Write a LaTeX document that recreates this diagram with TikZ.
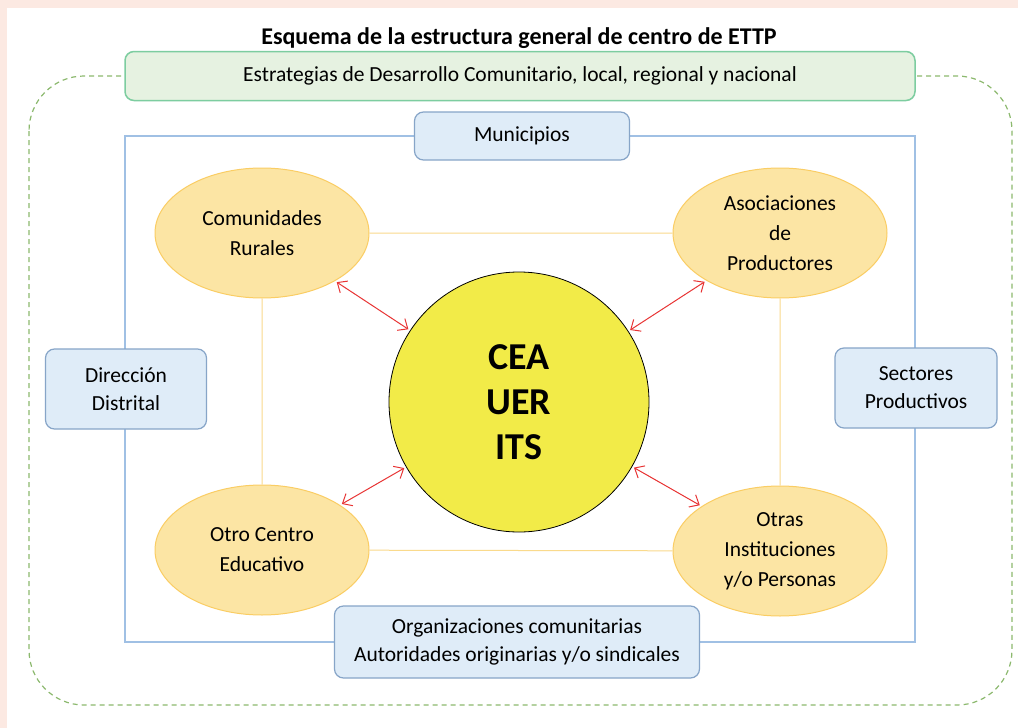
\documentclass[tikz,border=0pt]{standalone}
\usepackage{fontspec}
\setmainfont{Carlito}
\usepackage{xcolor}
\definecolor{bgpink}{RGB}{252,233,226}
\definecolor{mylightgreen}{RGB}{230,242,225}
\definecolor{mydarkgreen}{RGB}{125,205,160}
\definecolor{mydashgreen}{RGB}{140,185,110}
\definecolor{mylightblue}{RGB}{223,236,248}
\definecolor{mydarkblue}{RGB}{135,165,200}
\definecolor{myframeblue}{RGB}{160,192,228}
\definecolor{mylightorange}{RGB}{252,229,164}
\definecolor{mydarkorange}{RGB}{250,205,100}
\definecolor{mylineorange}{RGB}{250,218,140}
\definecolor{myyellow}{RGB}{242,235,72}
\definecolor{myred}{RGB}{232,52,52}
\usepackage{tikz}
\usetikzlibrary{shapes.geometric}
\usetikzlibrary{arrows.meta}
\newcommand{\widthellipse}{214pt}
\newcommand{\heightellipse}{130pt}
\tikzset{
    common/.style={draw, align=center, font=\fontsize{21.5}{28}\selectfont},
    box/.style={common, rectangle, rounded corners=9pt, fill=mylightblue, draw=mydarkblue, line width=1.2pt},
    strategy/.style={common, rectangle, rounded corners=9pt, fill=mylightgreen, draw=mydarkgreen, line width=1.5pt, minimum width=790pt, minimum height=49pt},
    actor/.style={common, ellipse, fill=mylightorange, draw=mydarkorange, line width=1pt, minimum width=\widthellipse, minimum height=\heightellipse, inner sep=0pt, font=\fontsize{21.5}{30}\selectfont},
    centre/.style={common, circle, fill=myyellow, draw=black, line width=0.8pt, minimum size=260pt, inner sep=0pt, font=\fontsize{38}{45}\selectfont\bfseries},
    link/.style={mylineorange, line width=1pt},
    exchange/.style={<->, >={Straight Barb[length=8pt, width=14pt]}, myred, line width=1pt, shorten <=2pt, shorten >=2pt},
}

\begin{document}
\begin{tikzpicture}[x=1pt, y=-1pt]
      \useasboundingbox (0,0) rectangle (1018,728);
      \fill[bgpink] (0,0) rectangle (1018,728);
      \fill[white] (7,8) rectangle (1018,728);
      % frames
      \draw[mydashgreen, line width=1.2pt, dash pattern=on 5pt off 4pt, rounded corners=55pt] (29,76) rectangle (1012,705);
      \draw[myframeblue, line width=1.5pt] (125,136) rectangle (915,642);

      \node[font=\fontsize{24}{28}\selectfont\bfseries] (title) at (519,38) {Esquema de la estructura general de centro de ETTP};
      \node[strategy] (strategies) at (520,76) {Estrategias de Desarrollo Comunitario, local, regional y nacional};

      \node[box, minimum width=215pt, minimum height=48pt] (municipios) at (522,136) {Municipios};
      \node[box, minimum width=161pt, minimum height=80pt] (direccion) at (126,389) {Dirección\\Distrital};
      \node[box, minimum width=162pt, minimum height=80pt] (sectores) at (916,388) {Sectores\\Productivos};
      \node[box, minimum width=365pt, minimum height=72pt] (organizaciones) at (517,642) {Organizaciones comunitarias\\Autoridades originarias y/o sindicales};

      \node[actor] (rurales) at (262,233) {Comunidades\\Rurales};
      \node[actor] (productores) at (780,233) {Asociaciones\\de\\Productores};
      \node[actor] (educativo) at (262,550) {Otro Centro\\Educativo};
      \node[actor] (personas) at (780,551) {Otras\\Instituciones\\y/o Personas};

      \node[centre] (cea) at (519,402) {CEA\\UER\\ITS};

      \draw[link] (rurales) -- (productores) (productores) -- (personas)
                  (personas) -- (educativo) (educativo) -- (rurales);
      \draw[exchange] (rurales) -- (cea);
      \draw[exchange] (productores) -- (cea);
      \draw[exchange] (educativo) -- (cea);
      \draw[exchange] (personas) -- (cea);
  \end{tikzpicture}
\end{document}
